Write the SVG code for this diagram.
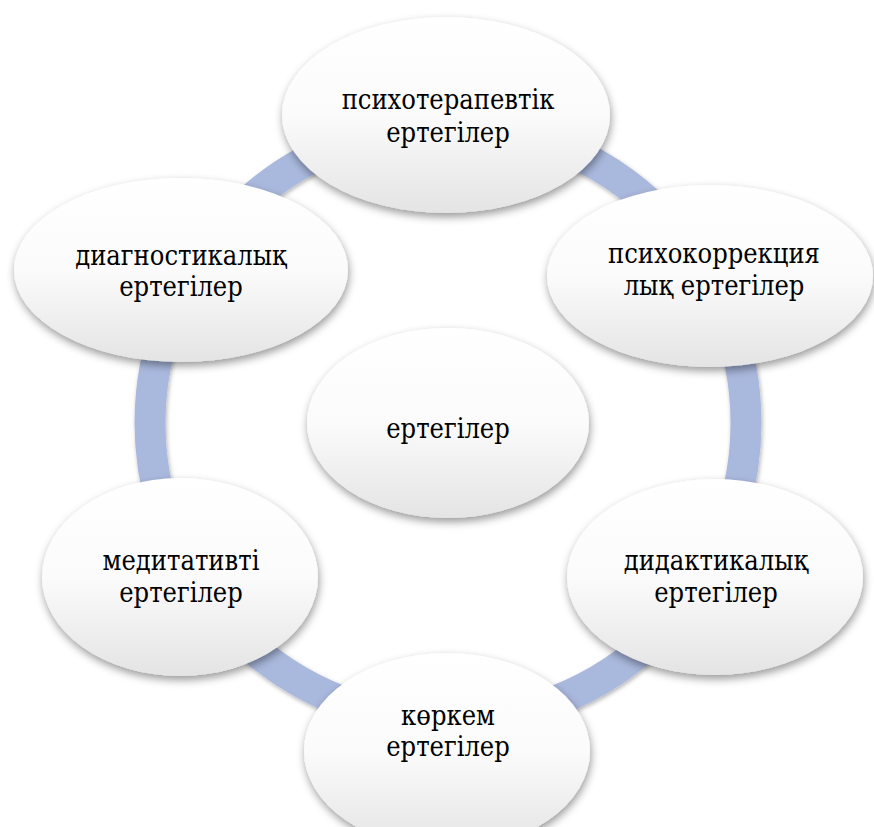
<svg xmlns="http://www.w3.org/2000/svg" width="874" height="827" viewBox="0 0 874 827">
<style>
.node{fill:url(#g);filter:url(#sh)}
.t{font-family:'DejaVu Serif Condensed','DejaVu Serif',serif;font-stretch:condensed;font-size:27px;fill:#000;text-anchor:middle}
.ring{fill:none;stroke:#a9b8dd;stroke-width:31;filter:url(#sh2)}
</style>
<defs>
<linearGradient id="g" x1="0" y1="0" x2="0" y2="1">
<stop offset="0" stop-color="#ffffff"/>
<stop offset="0.5" stop-color="#fbfbfb"/>
<stop offset="1" stop-color="#e4e4e4"/>
</linearGradient>
<filter id="sh" x="-20%" y="-20%" width="140%" height="150%">
<feDropShadow dx="1" dy="4" stdDeviation="4" flood-color="#000" flood-opacity="0.4"/>
</filter>
<filter id="sh2" x="-10%" y="-10%" width="120%" height="120%">
<feDropShadow dx="1" dy="2" stdDeviation="2" flood-color="#000" flood-opacity="0.3"/>
</filter>
</defs>
<g id="connectors">
<circle class="ring" cx="448" cy="423" r="298"/>
</g>
<g id="n-center">
<ellipse class="node" cx="448" cy="423" rx="141" ry="95"/>
<text class="t" x="448" y="438">ертегілер</text>
</g>
<g id="n-top">
<ellipse class="node" cx="446" cy="115" rx="164" ry="98"/>
<text class="t" x="448" y="109">психотерапевтік</text>
<text class="t" x="448" y="142">ертегілер</text>
</g>
<g id="n-right-top">
<ellipse class="node" cx="710" cy="276" rx="163" ry="91"/>
<text class="t" x="714" y="263">психокоррекция</text>
<text class="t" x="714" y="295">лық ертегілер</text>
</g>
<g id="n-right-bottom">
<ellipse class="node" cx="715" cy="577" rx="148" ry="98"/>
<text class="t" x="716" y="570">дидактикалық</text>
<text class="t" x="716" y="602">ертегілер</text>
</g>
<g id="n-bottom">
<ellipse class="node" cx="447" cy="751" rx="143" ry="98"/>
<text class="t" x="448" y="725">көркем</text>
<text class="t" x="448" y="756">ертегілер</text>
</g>
<g id="n-left-bottom">
<ellipse class="node" cx="180" cy="577" rx="138" ry="99"/>
<text class="t" x="181" y="570">медитативті</text>
<text class="t" x="181" y="602">ертегілер</text>
</g>
<g id="n-left-top">
<ellipse class="node" cx="181" cy="270" rx="167" ry="92"/>
<text class="t" x="181" y="265">диагностикалық</text>
<text class="t" x="181" y="296">ертегілер</text>
</g>
</svg>
